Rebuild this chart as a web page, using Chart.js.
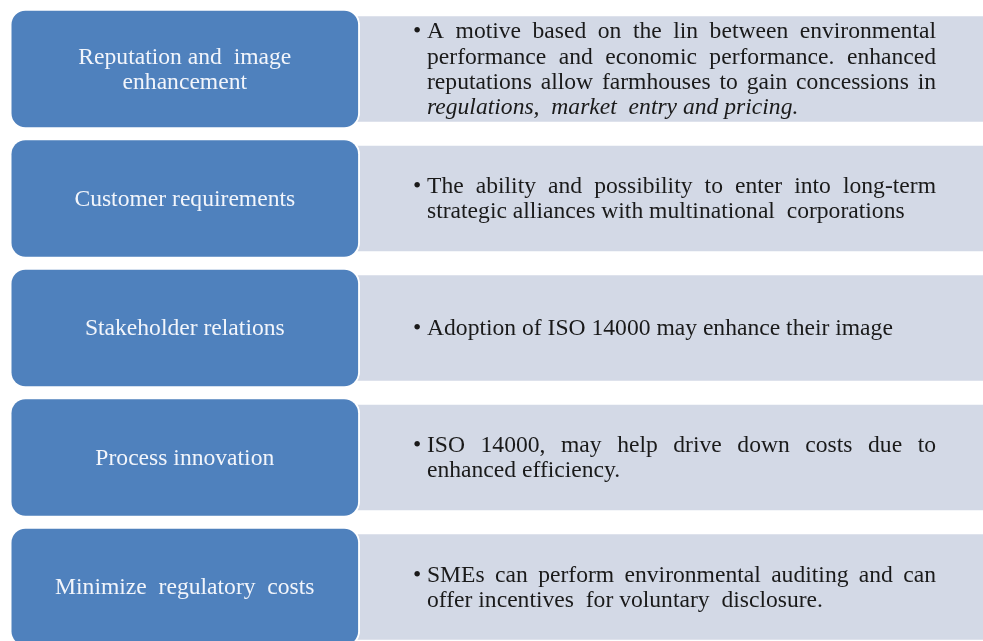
<!DOCTYPE html>
<html>
<head>
<meta charset="utf-8">
<script src="https://cdn.jsdelivr.net/npm/chart.js@4.4.1/dist/chart.umd.min.js"></script>
<style>
  html, body { margin: 0; padding: 0; background: #ffffff; overflow: hidden; }
  #wrap { width: 983px; height: 641px; }
</style>
</head>
<body>
<div id="wrap"><canvas id="c" width="983" height="641"></canvas></div>
<script>
// ---- data ----
const categories = [
  "Reputation and image enhancement",
  "Customer requirements",
  "Stakeholder relations",
  "Process innovation",
  "Minimize regulatory costs"
];
const rowIndex = [0, 1, 2, 3, 4];
const leftLabelLines = [
  ["Reputation and  image", "enhancement"],
  ["Customer requirements"],
  ["Stakeholder relations"],
  ["Process innovation"],
  ["Minimize  regulatory  costs"]
];
const descriptionLines = [
  ["A motive based on the lin between environmental",
   "performance and economic performance. enhanced",
   "reputations allow farmhouses to gain concessions in",
   "regulations,  market  entry and pricing."],
  ["The ability and possibility to enter into long-term",
   "strategic alliances with multinational  corporations"],
  ["Adoption of ISO 14000 may enhance their image"],
  ["ISO 14000, may help drive down costs due to",
   "enhanced efficiency."],
  ["SMEs can perform environmental auditing and can",
   "offer incentives  for voluntary  disclosure."]
];
const italicLines = [[3], [], [], [], []];
const leftSpan = [1.0, 36.6];
const rightSpan = [36.0, 100];

// ---- chart ----
const leftData = rowIndex.map(i => ({ y: i, x: leftSpan }));
const rightData = rowIndex.map(i => ({ y: i, x: rightSpan }));

const FONT = '23.6px "Liberation Serif", "Times New Roman", serif';

const textPlugin = {
  id: 'boxText',
  afterDatasetsDraw(chart) {
    const ctx = chart.ctx;
    const leftMeta = chart.getDatasetMeta(0);
    const rightMeta = chart.getDatasetMeta(1);
    const lh = 25.3;
    ctx.save();
    ctx.textBaseline = 'middle';
    // left labels
    leftMeta.data.forEach((bar, i) => {
      const lines = leftLabelLines[i];
      const cx = (bar.x + bar.base) / 2;
      ctx.fillStyle = '#f2f5fb';
      ctx.font = FONT;
      ctx.textAlign = 'center';
      lines.forEach((ln, k) => {
        const y = bar.y + (k - (lines.length - 1) / 2) * lh + 1;
        ctx.fillText(ln, cx, y);
      });
    });
    // right descriptions (justified)
    rightMeta.data.forEach((bar, i) => {
      const lines = descriptionLines[i];
      const x0 = 427, x1 = 936;
      ctx.fillStyle = '#1a1a1a';
      lines.forEach((ln, k) => {
        const y = bar.y + (k - (lines.length - 1) / 2) * lh + 1;
        const ital = italicLines[i].includes(k);
        ctx.textAlign = 'left';
        if (k === 0) {
          ctx.font = FONT;
          ctx.fillText('\u2022', 413, y);
        }
        ctx.font = (ital ? 'italic ' : '') + FONT;
        const last = k === lines.length - 1;
        if (last) {
          ctx.fillText(ln, x0, y);
        } else {
          const words = ln.split(' ');
          const wordsW = words.reduce((s, w) => s + ctx.measureText(w).width, 0);
          const gap = (x1 - x0 - wordsW) / (words.length - 1);
          let x = x0;
          words.forEach(w => {
            ctx.fillText(w, x, y);
            x += ctx.measureText(w).width + gap;
          });
        }
      });
    });
    ctx.restore();
  }
};

new Chart(document.getElementById('c'), {
  type: 'bar',
  data: {
    labels: categories,
    datasets: [
      {
        label: 'Motive',
        data: leftData,
        backgroundColor: '#4f81bd',
        borderColor: '#ffffff',
        borderWidth: 2,
        borderSkipped: false,
        borderRadius: 16,
        barThickness: 120,
        grouped: false
      },
      {
        label: 'Description',
        data: rightData,
        backgroundColor: '#d3d9e6',
        borderWidth: 0,
        borderSkipped: false,
        borderRadius: 0,
        barThickness: 105,
        grouped: false
      }
    ]
  },
  options: {
    indexAxis: 'y',
    responsive: false,
    animation: false,
    events: [],
    layout: { padding: 0 },
    plugins: { legend: { display: false }, tooltip: { enabled: false } },
    scales: {
      x: { type: 'linear', min: 0, max: 100, display: false, offset: false },
      y: { type: 'linear', min: -0.5328, max: 4.417, reverse: true, display: false, offset: false }
    }
  },
  plugins: [textPlugin]
});
</script>
</body>
</html>
